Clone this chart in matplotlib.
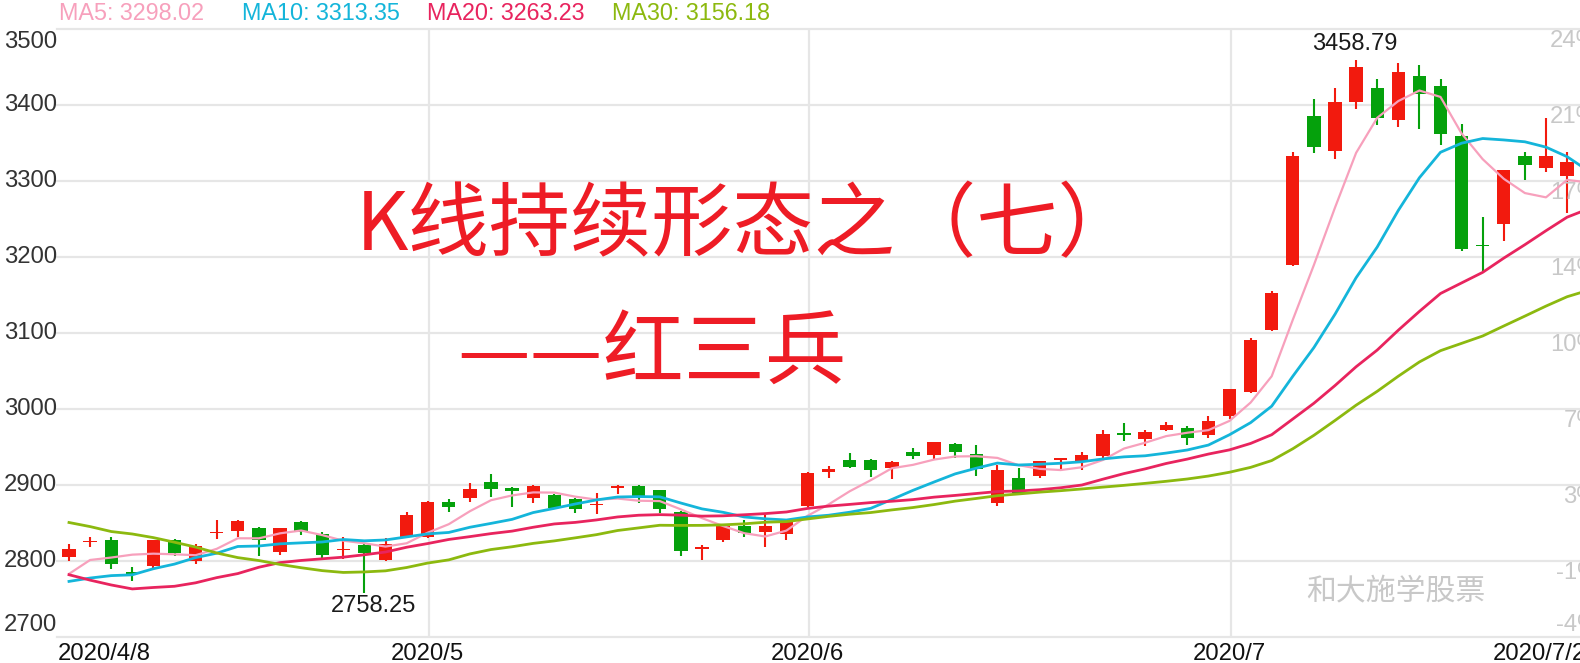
import matplotlib
matplotlib.use("Agg")
import matplotlib.pyplot as plt
import numpy as np
import pandas as pd

# ---------------- data ----------------
dates = ["2020-04-08", "2020-04-09", "2020-04-10", "2020-04-13", "2020-04-14", "2020-04-15",
         "2020-04-16", "2020-04-17", "2020-04-20", "2020-04-21", "2020-04-22", "2020-04-23",
         "2020-04-24", "2020-04-27", "2020-04-28", "2020-04-29", "2020-04-30",
         "2020-05-06", "2020-05-07", "2020-05-08", "2020-05-11", "2020-05-12", "2020-05-13",
         "2020-05-14", "2020-05-15", "2020-05-18", "2020-05-19", "2020-05-20", "2020-05-21",
         "2020-05-22", "2020-05-25", "2020-05-26", "2020-05-27", "2020-05-28", "2020-05-29",
         "2020-06-01", "2020-06-02", "2020-06-03", "2020-06-04", "2020-06-05", "2020-06-08",
         "2020-06-09", "2020-06-10", "2020-06-11", "2020-06-12", "2020-06-15", "2020-06-16",
         "2020-06-17", "2020-06-18", "2020-06-19", "2020-06-22", "2020-06-23", "2020-06-24",
         "2020-06-29", "2020-06-30",
         "2020-07-01", "2020-07-02", "2020-07-03", "2020-07-06", "2020-07-07", "2020-07-08",
         "2020-07-09", "2020-07-10", "2020-07-13", "2020-07-14", "2020-07-15", "2020-07-16",
         "2020-07-17", "2020-07-20", "2020-07-21", "2020-07-22", "2020-07-23", "2020-07-24"]

opens = [2805, 2824.5, 2827, 2785, 2793, 2827, 2800, 2836.5, 2840, 2843,
         2812, 2851, 2836, 2814, 2821, 2801, 2832, 2832, 2878, 2883,
         2904, 2896, 2883, 2887, 2882, 2873.5, 2896.5, 2899, 2893, 2865,
         2815.5, 2828, 2846, 2838, 2835, 2873, 2917, 2933, 2933, 2923,
         2943, 2939, 2954, 2941, 2876, 2909, 2912, 2933, 2932, 2938,
         2969, 2960, 2973, 2975, 2966, 2991, 3023, 3104, 3189, 3385,
         3339, 3404, 3423, 3380, 3438, 3425, 3359, 3216, 3244, 3333,
         3317, 3307, 3304]

highs = [2822, 2831, 2832, 2792, 2828, 2829, 2822, 2854, 2854, 2845,
         2844, 2853, 2838, 2831, 2823, 2830, 2865, 2879.5, 2882, 2903,
         2914, 2898, 2900, 2888, 2883, 2890, 2900, 2900, 2894, 2866,
         2821, 2847, 2854, 2860, 2854, 2917, 2925, 2942, 2934, 2931,
         2949, 2957, 2955, 2952, 2926, 2922, 2932, 2936, 2943, 2973,
         2982, 2972, 2983, 2978, 2991, 3026, 3093, 3155, 3338, 3408,
         3422, 3458.79, 3434, 3455, 3452, 3434, 3375, 3253, 3315, 3338,
         3383, 3338, 3305]

lows = [2800, 2819, 2789, 2774, 2789, 2806, 2796, 2829, 2832, 2807,
        2808, 2834, 2802, 2802, 2758.25, 2800, 2830, 2830, 2864, 2878,
        2884, 2871, 2876, 2869, 2863, 2862, 2888, 2876, 2863, 2807,
        2801, 2825, 2831, 2819, 2828, 2871, 2909, 2922, 2911, 2908,
        2934, 2934, 2935, 2912, 2872, 2889, 2909, 2920, 2920, 2935,
        2958, 2951, 2971, 2953, 2962, 2987, 3021, 3103, 3188, 3337,
        3329, 3395, 3374, 3371, 3368, 3347, 3208, 3182, 3221, 3301,
        3312, 3258, 3184]

closes = [2815.37, 2825.90, 2796.63, 2783.05, 2827.28, 2811.17, 2819.94, 2838.49, 2852.55, 2827.01,
          2843.98, 2838.50, 2808.53, 2815.49, 2810.02, 2822.44, 2860.08, 2878.14, 2871.52, 2895.34,
          2894.80, 2891.56, 2898.05, 2870.34, 2868.46, 2875.42, 2898.58, 2883.74, 2867.92, 2813.77,
          2817.97, 2846.55, 2836.80, 2846.22, 2852.35, 2915.43, 2921.40, 2923.37, 2919.25, 2930.80,
          2937.77, 2956.11, 2943.75, 2920.90, 2919.74, 2890.03, 2931.75, 2935.87, 2939.32, 2967.63,
          2965.27, 2969.95, 2979.55, 2961.52, 2984.67, 3025.98, 3090.57, 3152.81, 3332.88, 3345.34,
          3403.44, 3450.59, 3383.32, 3443.29, 3414.62, 3361.30, 3210.10, 3214.13, 3314.15, 3320.90,
          3333.16, 3325.11, 3196.77]

# closes before 2020-04-08 (only used to seed the moving averages)
prior_closes = [2987.93, 2991.33, 2880.30, 2970.93, 2992.90, 3011.67, 3071.68, 3034.51, 2943.29,
                2996.76, 2968.52, 2923.49, 2887.43, 2789.25, 2779.64, 2728.76, 2702.13, 2745.62,
                2660.17, 2722.44, 2781.59, 2764.91, 2772.20, 2747.21, 2750.30, 2734.52, 2780.64,
                2763.99, 2820.76]

ma_periods = [5, 10, 20, 30]
legend_labels = ["MA5: 3298.02", "MA10: 3313.35", "MA20: 3263.23", "MA30: 3156.18"]
y_ticks = [2700, 2800, 2900, 3000, 3100, 3200, 3300, 3400, 3500]
pct_labels = ["-4%", "-1%", "3%", "7%", "10%", "14%", "17%", "21%", "24%"]
x_tick_idx = [0, 17, 35, 55, 70]
x_tick_labels = ["2020/4/8", "2020/5", "2020/6", "2020/7", "2020/7/22"]
title_lines = ["K线持续形态之（七）", "——红三兵"]
watermark = "和大施学股票"

# ---------------- style ----------------
W, H = 1580, 663
UP = "#f21a0e"
DOWN = "#05a10c"
MA_COLORS = ["#f7a0bc", "#14b5da", "#e8245e", "#8cb90f"]
MA_LW = [1.6, 2.0, 2.0, 2.0]
GRID = "#e6e6e6"
NUM_FONT = ["Liberation Sans", "DejaVu Sans"]
CJK_FONT = ["Noto Sans CJK SC", "DejaVu Sans"]

fig = plt.figure(figsize=(W / 100, H / 100), dpi=100)
fig.patch.set_facecolor("white")
ax = fig.add_axes([57 / W, (H - 637) / H, (W - 57) / W, (637 - 29) / H])
x_lo = (57 - 69) / 21.1
x_hi = (W - 69) / 21.1
ax.set_xlim(x_lo, x_hi)
ax.set_ylim(2700, 3500)
for s in ax.spines.values():
    s.set_visible(False)
ax.set_xticks([])
ax.set_yticks([])

# grid
for v in y_ticks:
    ax.axhline(v, color=GRID, lw=1.6, zorder=0, clip_on=False)
for i in x_tick_idx[1:4]:
    ax.axvline(i + 0.07, color=GRID, lw=1.6, zorder=0)

# candles
o = np.array(opens, float)
h = np.array(highs, float)
l = np.array(lows, float)
c = np.array(closes, float)
x = np.arange(len(c))
up = c >= o
cols = np.where(up, UP, DOWN)
body_lo = np.minimum(o, c)
body_h = np.maximum(np.abs(c - o), 2.0)
ax.vlines(x, l, h, colors=cols, lw=1.5, zorder=2)
ax.bar(x, body_h, bottom=body_lo, width=0.63, color=cols, linewidth=0, zorder=3)

# moving averages
allc = pd.Series(prior_closes + closes)
for p, col, lw in zip(ma_periods, MA_COLORS, MA_LW):
    ma = allc.rolling(p).mean().to_numpy()[len(prior_closes):]
    ax.plot(x, ma, color=col, lw=lw, zorder=4, solid_joinstyle="round")

# high / low labels
imax = int(np.argmax(h))
imin = int(np.argmin(l))
ax.annotate(f"{h[imax]:.2f}", xy=(imax, h[imax]), xytext=(-1, 16), textcoords="offset pixels",
            ha="center", va="center", fontsize=17, family=NUM_FONT, color="#1a1a1a",
            annotation_clip=False)
ax.annotate(f"{l[imin]:.2f}", xy=(imin, l[imin]), xytext=(9, -13.5), textcoords="offset pixels",
            ha="center", va="center", fontsize=17, family=NUM_FONT, color="#1a1a1a",
            annotation_clip=False)

# left price labels
for k, v in enumerate(y_ticks):
    dy = 0
    if k == len(y_ticks) - 1:
        dy = -13
    elif k == 0:
        dy = 12
    ax.annotate(str(v), xy=(4, v), xycoords=("figure pixels", "data"), xytext=(0, dy),
                textcoords="offset pixels", ha="left", va="center", fontsize=17.2,
                family=NUM_FONT, color="#333333", annotation_clip=False)

# right percent labels (cut by the figure edge, like the reference)
for k, (v, lab) in enumerate(zip(y_ticks, pct_labels)):
    dy = 12 if k == 0 else -12
    ax.annotate(lab, xy=(1598, v), xycoords=("figure pixels", "data"), xytext=(0, dy),
                textcoords="offset pixels", ha="right", va="center", fontsize=17.2,
                family=NUM_FONT, color="#c8c8c8", annotation_clip=False)

# x labels
for idx, lab in zip(x_tick_idx, x_tick_labels):
    if idx == 0:
        ax.annotate(lab, xy=(0, 9), xycoords=("axes fraction", "figure pixels"), xytext=(1, 0),
                    textcoords="offset pixels", ha="left", va="center", fontsize=17.2,
                    family=NUM_FONT, color="#111111", annotation_clip=False)
    else:
        ax.annotate(lab, xy=(idx, 9), xycoords=("data", "figure pixels"),
                    ha="center", va="center", fontsize=17.2,
                    family=NUM_FONT, color="#111111", annotation_clip=False)

# legend texts
leg_x = [58.5, 242, 427, 612]
for lx, lab, col in zip(leg_x, legend_labels, MA_COLORS):
    fig.text(lx / W, 1 - 14 / H, lab, ha="left", va="center", fontsize=16.8,
             family=NUM_FONT, color=col)

# big title
fig.text(748 / W, 1 - 227 / H, title_lines[0], ha="center", va="center", fontsize=58.5,
         family=CJK_FONT, color="#ee1c25", fontweight="medium")
fig.text(652 / W, 1 - 354 / H, title_lines[1], ha="center", va="center", fontsize=58.5,
         family=CJK_FONT, color="#ee1c25", fontweight="medium")

# watermark
fig.text(1396 / W, 1 - 591 / H, watermark, ha="center", va="center", fontsize=21.5,
         family=CJK_FONT, color="#c8c8c8")

fig.savefig("out.png", dpi=100, facecolor="white")
